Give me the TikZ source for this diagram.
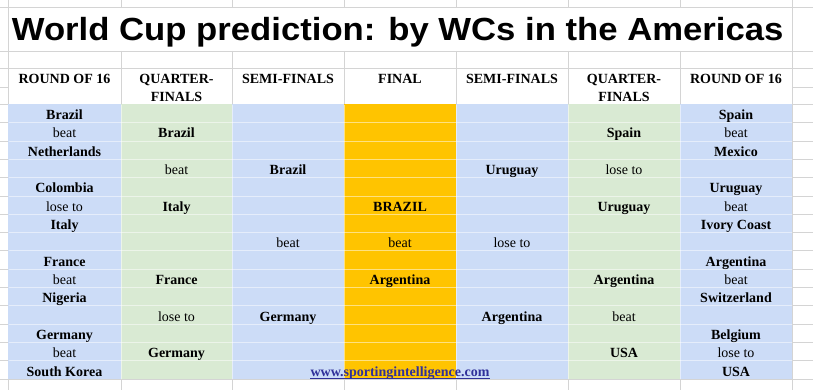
\documentclass[tikz,border=0pt]{standalone}
\usepackage{fontspec}
\usepackage{graphicx}
\setmainfont{Liberation Serif}
\newfontfamily\titlefont{Liberation Sans}
\definecolor{cblue}{HTML}{CCDCF7}
\definecolor{cgreen}{HTML}{D9EAD3}
\definecolor{corange}{HTML}{FFC400}
\definecolor{gridc}{HTML}{D4D4D4}
\definecolor{linkc}{HTML}{30309A}
\begin{document}
\begin{tikzpicture}[x=1pt,y=-1pt,
  gridline/.style={draw=gridc,line width=0.9pt},
  cellgrid/.style={draw=white,opacity=0.5,line width=0.9pt},
  team/.style={font=\fontsize{14}{14}\selectfont\bfseries,anchor=base,inner sep=0pt},
  res/.style={font=\fontsize{14}{14}\selectfont,anchor=base,inner sep=0pt},
  head/.style={font=\fontsize{14}{14}\selectfont\bfseries,anchor=base,inner sep=0pt},
]
\useasboundingbox (0,0) rectangle (813,390);
\fill[white] (0,0) rectangle (813,390);
% spreadsheet grid
\foreach \y in {7.3,51,68.3} \draw[gridline] (0,\y) -- (813,\y);
\foreach \k in {0,...,15} \draw[gridline] (0,{104.3+18.33*\k}) -- (813,{104.3+18.33*\k});
\draw[gridline] (0,87.7) -- (8,87.7);
\draw[gridline] (792,87.7) -- (813,87.7);
\foreach \x in {8,792} \draw[gridline] (\x,0) -- (\x,390);
\foreach \x in {121,232,344,456,568,680} {
  \draw[gridline] (\x,0) -- (\x,7.3);
  \draw[gridline] (\x,51) -- (\x,390);
}
% coloured columns
\fill[cblue]   (8,104.3)   rectangle (121,379.3);
\fill[cgreen]  (121,104.3) rectangle (232,379.3);
\fill[cblue]   (232,104.3) rectangle (344,379.3);
\fill[corange] (344,104.3) rectangle (456,379.3);
\fill[cblue]   (456,104.3) rectangle (568,379.3);
\fill[cgreen]  (568,104.3) rectangle (680,379.3);
\fill[cblue]   (680,104.3) rectangle (792,379.3);
\foreach \k in {1,...,14} \draw[cellgrid] (8.5,{104.3+18.33*\k}) -- (791.5,{104.3+18.33*\k});
\foreach \x in {121,232,344,456,568,680} \draw[cellgrid] (\x,104.8) -- (\x,378.8);
% title
\node[anchor=base west,inner sep=0pt] (title) at (11.7,41)
  {\titlefont\bfseries\fontsize{32}{32}\selectfont\scalebox{1.084}[1]{World Cup prediction: by WCs in the Americas}};
% headers
\node[head] (h1) at (64.5,83.3) {ROUND OF 16};
\node[head] (h2a) at (176.5,83.3) {QUARTER-};
\node[head] (h2b) at (176.5,101.7) {FINALS};
\node[head] (h3) at (288,83.3) {SEMI-FINALS};
\node[head] (h4) at (400,83.3) {FINAL};
\node[head] (h5) at (512,83.3) {SEMI-FINALS};
\node[head] (h6a) at (624,83.3) {QUARTER-};
\node[head] (h6b) at (624,101.7) {FINALS};
\node[head] (h7) at (736,83.3) {ROUND OF 16};
% column 1
\node[team] (a1)  at (64.5,{101.3+18.33*1})  {Brazil};
\node[res]  (a2)  at (64.5,{101.3+18.33*2})  {beat};
\node[team] (a3)  at (64.5,{101.3+18.33*3})  {Netherlands};
\node[team] (a5)  at (64.5,{101.3+18.33*5})  {Colombia};
\node[res]  (a6)  at (64.5,{101.3+18.33*6})  {lose to};
\node[team] (a7)  at (64.5,{101.3+18.33*7})  {Italy};
\node[team] (a9)  at (64.5,{101.3+18.33*9})  {France};
\node[res]  (a10) at (64.5,{101.3+18.33*10}) {beat};
\node[team] (a11) at (64.5,{101.3+18.33*11}) {Nigeria};
\node[team] (a13) at (64.5,{101.3+18.33*13}) {Germany};
\node[res]  (a14) at (64.5,{101.3+18.33*14}) {beat};
\node[team] (a15) at (64.5,{101.3+18.33*15}) {South Korea};
% column 2
\node[team] (b2)  at (176.5,{101.3+18.33*2})  {Brazil};
\node[res]  (b4)  at (176.5,{101.3+18.33*4})  {beat};
\node[team] (b6)  at (176.5,{101.3+18.33*6})  {Italy};
\node[team] (b10) at (176.5,{101.3+18.33*10}) {France};
\node[res]  (b12) at (176.5,{101.3+18.33*12}) {lose to};
\node[team] (b14) at (176.5,{101.3+18.33*14}) {Germany};
% column 3
\node[team] (c4)  at (288,{101.3+18.33*4})  {Brazil};
\node[res]  (c8)  at (288,{101.3+18.33*8})  {beat};
\node[team] (c12) at (288,{101.3+18.33*12}) {Germany};
% column 4 (final)
\node[team] (d6)  at (400,{101.3+18.33*6})  {BRAZIL};
\node[res]  (d8)  at (400,{101.3+18.33*8})  {beat};
\node[team] (d10) at (400,{101.3+18.33*10}) {Argentina};
% column 5
\node[team] (e4)  at (512,{101.3+18.33*4})  {Uruguay};
\node[res]  (e8)  at (512,{101.3+18.33*8})  {lose to};
\node[team] (e12) at (512,{101.3+18.33*12}) {Argentina};
% column 6
\node[team] (f2)  at (624,{101.3+18.33*2})  {Spain};
\node[res]  (f4)  at (624,{101.3+18.33*4})  {lose to};
\node[team] (f6)  at (624,{101.3+18.33*6})  {Uruguay};
\node[team] (f10) at (624,{101.3+18.33*10}) {Argentina};
\node[res]  (f12) at (624,{101.3+18.33*12}) {beat};
\node[team] (f14) at (624,{101.3+18.33*14}) {USA};
% column 7
\node[team] (g1)  at (736,{101.3+18.33*1})  {Spain};
\node[res]  (g2)  at (736,{101.3+18.33*2})  {beat};
\node[team] (g3)  at (736,{101.3+18.33*3})  {Mexico};
\node[team] (g5)  at (736,{101.3+18.33*5})  {Uruguay};
\node[res]  (g6)  at (736,{101.3+18.33*6})  {beat};
\node[team] (g7)  at (736,{101.3+18.33*7})  {Ivory Coast};
\node[team] (g9)  at (736,{101.3+18.33*9})  {Argentina};
\node[res]  (g10) at (736,{101.3+18.33*10}) {beat};
\node[team] (g11) at (736,{101.3+18.33*11}) {Switzerland};
\node[team] (g13) at (736,{101.3+18.33*13}) {Belgium};
\node[res]  (g14) at (736,{101.3+18.33*14}) {lose to};
\node[team] (g15) at (736,{101.3+18.33*15}) {USA};
% link
\node[team,text=linkc] (url) at (400,{101.3+18.33*15}) {www.sportingintelligence.com};
\draw[linkc,line width=1.1pt] ([yshift=-1.8pt]url.base west) -- ([yshift=-1.8pt]url.base east);
\end{tikzpicture}
\end{document}
